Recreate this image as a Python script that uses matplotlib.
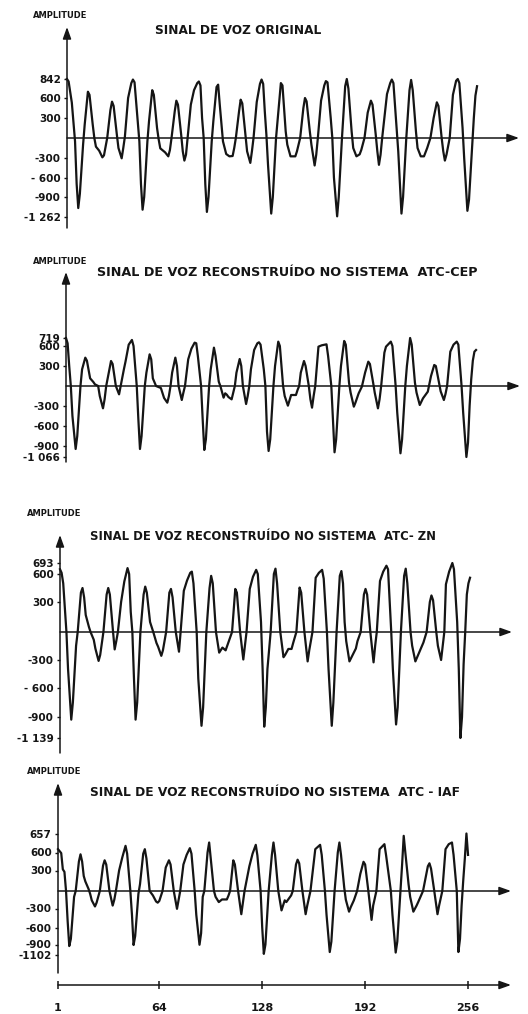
import numpy as np
import matplotlib
matplotlib.use("Agg")
import matplotlib.pyplot as plt

# ---- data: (sample, amplitude) ----
orig = [(1, 842), (2, 810), (4, 530), (6, -50), (7, -700), (8, -1100), (9, -850), (11, -100),
        (12, 200), (14, 680), (15, 640), (17, 200), (18, 0), (19, -130), (21, -190), (23, -290),
        (24, -260), (26, 0), (28, 420), (29, 545), (30, 480), (32, 50), (33, -150), (35, -305),
        (36, -150), (37, 20), (39, 600), (41, 790), (42, 835), (43, 800), (45, 250), (46, -50),
        (47, -700), (48, -1130), (49, -900), (51, -50), (52, 250), (54, 700), (55, 640), (57, 150),
        (58, -20), (59, -155), (62, -215), (64, -275), (65, -180), (66, 0), (68, 400), (69, 560),
        (70, 500), (72, 50), (73, -200), (74, -340), (75, -250), (76, 0), (78, 500), (80, 700),
        (82, 790), (83, 810), (84, 760), (85, 300), (86, 0), (87, -700), (88, -1170), (89, -900),
        (91, -50), (92, 250), (94, 740), (95, 770), (96, 500), (98, -50), (100, -240), (102, -275),
        (104, -270), (105, -150), (106, 0), (108, 400), (109, 575), (110, 520), (112, 50), (113, -200),
        (115, -375), (116, -200), (117, 0), (119, 540), (121, 780), (122, 835), (123, 780), (124, 400),
        (125, 50), (126, -400), (128, -1200), (129, -900), (131, 0), (133, 550), (134, 790), (135, 760),
        (137, 100), (138, -100), (140, -275), (143, -275), (144, -200), (146, 0), (148, 450), (149, 600),
        (150, 550), (152, 100), (153, -100), (155, -415), (156, -250), (157, 0), (159, 560), (161, 760),
        (162, 815), (163, 800), (165, 300), (166, 0), (167, -600), (169, -1250), (170, -900), (172, 0),
        (174, 750), (175, 842), (176, 720), (178, 100), (179, -150), (181, -275), (183, -245), (184, -180),
        (186, 0), (188, 380), (190, 560), (191, 500), (193, 50), (194, -200), (195, -405), (196, -250),
        (197, 0), (200, 650), (202, 790), (203, 835), (204, 790), (206, 150), (207, -200), (209, -1200),
        (210, -900), (212, 0), (214, 700), (215, 830), (216, 700), (218, 100), (219, -150), (221, -275),
        (223, -275), (225, -150), (227, 0), (229, 300), (231, 535), (232, 480), (234, 0), (235, -200),
        (236, -340), (237, -250), (239, 0), (241, 640), (243, 820), (244, 842), (245, 790), (247, 150),
        (248, -300), (250, -1150), (251, -950), (253, -100), (254, 300), (255, 630), (256, 750)]

cep = [(1, 719), (2, 640), (3, 300), (4, 0), (5, -450), (7, -945), (8, -750), (10, 0), (11, 250),
       (13, 425), (14, 380), (16, 115), (18, 60), (19, 25), (21, 0), (22, -150), (24, -335), (25, -200),
       (26, 0), (28, 250), (29, 375), (30, 330), (32, 0), (34, -125), (35, 0), (37, 250), (38, 365),
       (40, 620), (42, 690), (43, 600), (45, 0), (46, -500), (47, -945), (48, -750), (50, 0), (51, 200),
       (53, 475), (54, 400), (55, 115), (57, 0), (59, -20), (60, -30), (62, -180), (64, -250), (65, -150),
       (66, 0), (67, 200), (69, 425), (70, 300), (71, 0), (73, -210), (74, -100), (75, 0), (77, 400),
       (79, 560), (81, 650), (82, 640), (83, 450), (85, 0), (86, -500), (87, -960), (88, -800), (90, 0),
       (91, 250), (93, 575), (94, 450), (96, 65), (97, 0), (99, -175), (100, -110), (101, -130),
       (102, -165), (104, -200), (105, -100), (106, 0), (107, 200), (109, 405), (110, 300), (111, 0),
       (113, -270), (114, -150), (115, 0), (116, 250), (118, 540), (120, 640), (121, 655), (122, 620),
       (124, 250), (125, 0), (126, -685), (127, -975), (128, -800), (130, 0), (131, 300), (133, 665),
       (134, 600), (136, 0), (137, -150), (139, -295), (141, -135), (144, -135), (145, -60), (146, 0),
       (147, 200), (149, 375), (150, 300), (152, 0), (153, -200), (154, -325), (155, -150), (156, 0),
       (158, 590), (160, 610), (161, 615), (163, 625), (164, 450), (166, 0), (167, -500), (168, -995),
       (169, -800), (171, 0), (172, 300), (174, 675), (175, 620), (177, 50), (178, -100), (180, -310),
       (181, -250), (183, -110), (185, -10), (187, 200), (189, 365), (190, 330), (192, 50), (193, -100),
       (195, -335), (196, -200), (197, 0), (199, 500), (200, 590), (203, 665), (204, 600), (206, 0),
       (207, -400), (209, -1010), (210, -800), (212, 0), (213, 300), (215, 719), (216, 620), (218, 50),
       (219, -100), (221, -285), (223, -185), (226, -85), (228, 150), (230, 315), (231, 300), (233, 50),
       (234, -80), (236, -210), (237, -120), (238, 0), (240, 515), (242, 620), (244, 665), (245, 620),
       (247, 0), (248, -400), (250, -1066), (251, -850), (252, -300), (253, 100), (254, 380),
       (255, 515), (256, 540)]

zn = [(1, 640), (2, 610), (3, 500), (5, 0), (6, -400), (8, -930), (9, -750), (11, -150), (12, 0),
      (14, 400), (15, 450), (16, 350), (17, 170), (19, 50), (20, 0), (22, -85), (23, -180), (25, -315),
      (26, -250), (28, 0), (30, 380), (31, 450), (32, 380), (34, 0), (35, -190), (36, -100), (37, 0),
      (39, 300), (41, 520), (43, 650), (44, 600), (45, 200), (46, 0), (47, -500), (48, -930), (49, -750),
      (51, 0), (53, 380), (54, 465), (55, 400), (57, 100), (59, 0), (61, -120), (62, -160), (64, -260),
      (65, -200), (67, 0), (69, 400), (70, 440), (71, 350), (73, 0), (75, -215), (76, 0), (78, 420),
      (80, 530), (82, 610), (83, 620), (84, 500), (86, 0), (87, -500), (89, -1000), (90, -800), (92, 0),
      (94, 450), (95, 580), (96, 500), (98, 0), (100, -225), (102, -170), (104, -200), (105, -150),
      (108, 0), (110, 440), (111, 400), (113, 0), (115, -300), (116, -150), (117, 0), (119, 440),
      (121, 570), (123, 635), (124, 600), (126, 100), (127, -400), (128, -1010), (129, -800),
      (130, -400), (132, 0), (134, 600), (135, 645), (136, 500), (138, 0), (140, -275), (141, -250),
      (143, -185), (145, -185), (146, -120), (148, 0), (150, 455), (151, 400), (153, 0), (155, -320),
      (156, -200), (158, 0), (160, 560), (162, 610), (164, 635), (165, 550), (167, 0), (168, -400),
      (170, -1000), (171, -750), (173, 0), (175, 580), (176, 625), (177, 500), (178, 100), (179, -100),
      (181, -320), (183, -250), (185, -180), (186, -100), (188, 0), (190, 380), (191, 440), (192, 380),
      (194, 0), (196, -330), (197, -150), (198, 0), (200, 525), (202, 620), (204, 670), (205, 640),
      (207, 0), (208, -400), (210, -985), (211, -800), (213, 0), (215, 580), (216, 645), (217, 500),
      (219, 0), (220, -150), (222, -320), (223, -280), (225, -200), (227, -115), (229, 0), (231, 300),
      (232, 370), (233, 320), (235, 0), (236, -150), (238, -305), (239, -150), (240, 0), (241, 490),
      (243, 620), (245, 693), (246, 640), (248, 100), (249, -400), (250, -1139), (251, -900),
      (252, -350), (253, 0), (254, 380), (255, 500), (256, 560)]

iaf = [(1, 610), (3, 590), (4, 320), (5, 280), (6, 0), (7, -500), (8, -930), (9, -800), (11, -100),
       (12, 0), (14, 450), (15, 570), (16, 450), (17, 220), (18, 140), (20, 30), (21, -50), (22, -160),
       (24, -265), (25, -200), (27, 0), (29, 380), (30, 470), (31, 400), (33, 0), (35, -250), (36, -150),
       (37, 0), (39, 300), (41, 520), (43, 620), (44, 580), (46, 0), (47, -400), (48, -910), (49, -750),
       (51, -50), (52, 100), (54, 580), (55, 610), (56, 500), (58, 0), (60, -75), (62, -180), (63, -200),
       (64, -170), (66, 0), (68, 350), (70, 470), (71, 400), (73, 0), (75, -305), (76, -150), (77, 0),
       (79, 400), (81, 560), (83, 613), (84, 580), (86, 0), (87, -400), (89, -905), (90, -700),
       (91, -100), (92, 0), (94, 600), (95, 630), (96, 500), (98, 0), (99, -100), (101, -190),
       (103, -145), (106, -145), (107, -80), (108, 0), (110, 470), (111, 400), (113, 0), (115, -390),
       (116, -200), (117, 0), (120, 370), (122, 580), (124, 623), (125, 550), (127, 0), (128, -600),
       (129, -1080), (130, -900), (132, 0), (134, 560), (135, 630), (136, 560), (138, 0), (140, -330),
       (142, -160), (143, -190), (146, -75), (147, 0), (149, 400), (150, 480), (151, 420), (153, 0),
       (155, -390), (156, -250), (158, 0), (161, 610), (164, 623), (165, 560), (167, 0), (168, -400),
       (170, -1045), (171, -850), (173, 0), (175, 600), (176, 630), (177, 560), (179, 50), (180, -150),
       (182, -350), (183, -280), (185, -160), (187, 0), (189, 250), (191, 445), (192, 400), (194, 0),
       (196, -480), (197, -250), (199, 0), (201, 610), (204, 625), (205, 560), (208, 0), (209, -400),
       (211, -1055), (212, -850), (214, 0), (215, 400), (216, 650), (217, 600), (219, 100), (220, -100),
       (222, -350), (224, -250), (225, -190), (228, 0), (231, 370), (232, 420), (233, 330), (235, 0),
       (237, -390), (238, -250), (240, 0), (242, 610), (244, 625), (246, 630), (247, 560), (249, 0),
       (250, -1045), (251, -800), (252, -250), (253, 150), (254, 500), (255, 657), (256, 560)]

titles = ["SINAL DE VOZ ORIGINAL",
          "SINAL DE VOZ RECONSTRUÍDO NO SISTEMA  ATC-CEP",
          "SINAL DE VOZ RECONSTRUÍDO NO SISTEMA  ATC- ZN",
          "SINAL DE VOZ RECONSTRUÍDO NO SISTEMA  ATC - IAF"]

yticks = [[842, 600, 300, -300, -600, -900, -1262],
          [719, 600, 300, -300, -600, -900, -1066],
          [693, 600, 300, -300, -600, -900, -1139],
          [657, 600, 300, -300, -600, -900, -1102]]
ylabels = [["842", "600", "300", "-300", "- 600", "-900", "-1 262"],
           ["719", "600", "300", "-300", "-600", "-900", "-1 066"],
           ["693", "600", "300", "-300", "- 600", "-900", "-1 139"],
           ["657", "600", "300", "-300", "-600", "-900", "-1102"]]

sample_ticks = [1, 64, 128, 192, 256]

# ---- layout (pixels of the 528x1014 page) ----
W, H = 528, 1014
PX_PER_SAMPLE = 1.608
INK = "#151515"

# x0: y axis, y0: zero line, ytop/ybot: y axis ends, xend: arrow tip
panels = [
    dict(x0=67, y0=138, ytop=27, ybot=228, xend=519,
         offs=[59, 40, 20, -20, -39.5, -59, -79],
         title_xy=(155, 31), title_fs=8.7, amp_xy=(33, 15)),
    dict(x0=66, y0=386, ytop=272, ybot=462, xend=520,
         offs=[48, 40, 20, -20, -40, -60, -71],
         title_xy=(97, 272), title_fs=9.2, amp_xy=(33, 262)),
    dict(x0=60, y0=632, ytop=535, ybot=753, xend=512,
         offs=[69, 58, 30, -27.5, -56, -85, -106],
         title_xy=(90, 537), title_fs=8.4, amp_xy=(27, 513)),
    dict(x0=58, y0=891, ytop=783, ybot=973, xend=511,
         offs=[57.5, 38.5, 20.5, -17.5, -36.5, -53.5, -64],
         title_xy=(90, 793), title_fs=8.8, amp_xy=(27, 771)),
]


def knot_scale(vals, offs):
    # hand-drawn amplitude axis: piecewise linear between the labelled ticks
    v = np.r_[vals, 0.0]
    o = np.r_[offs, 0.0]
    order = np.argsort(v)
    v, o = v[order], o[order]
    k_lo = (o[1] - o[0]) / (v[1] - v[0])
    k_hi = (o[-1] - o[-2]) / (v[-1] - v[-2])
    v = np.r_[v[0] - 1e5, v, v[-1] + 1e5]
    o = np.r_[o[0] - 1e5 * k_lo, o, o[-1] + 1e5 * k_hi]
    return (lambda y: np.interp(y, v, o)), (lambda y: np.interp(y, o, v))


arrow = dict(arrowstyle="-|>,head_length=0.7,head_width=0.25", color=INK,
             lw=1.1, shrinkA=0, shrinkB=0)

fig = plt.figure(figsize=(W / 100, H / 100), dpi=100)

for series, p, title, tv, tl in zip([orig, cep, zn, iaf], panels, titles, yticks, ylabels):
    ax = fig.add_axes([p["x0"] / W, 1 - p["ybot"] / H,
                       (p["xend"] - p["x0"]) / W, (p["ybot"] - p["ytop"]) / H])
    fwd, inv = knot_scale(tv, p["offs"])
    ax.set_yscale("function", functions=(fwd, inv))
    xmax = 1 + (p["xend"] - p["x0"]) / PX_PER_SAMPLE
    ymin = float(inv(-(p["ybot"] - p["y0"])))
    ymax = float(inv(p["y0"] - p["ytop"]))
    ax.set_xlim(1, xmax)
    ax.set_ylim(ymin, ymax)

    n, a = zip(*series)
    ax.plot(n, a, color=INK, lw=1.6, solid_joinstyle="round", clip_on=False)

    for s in ax.spines.values():
        s.set_visible(False)
    ax.set_xticks([])
    ax.set_yticks(tv)
    ax.set_yticklabels(tl, fontsize=7.5, fontweight="bold", color=INK)
    ax.tick_params(axis="y", length=2.5, width=1, pad=2, colors=INK)
    ax.yaxis.set_minor_locator(plt.NullLocator())

    ax.annotate("", xy=(xmax, 0), xytext=(1, 0), arrowprops=arrow, annotation_clip=False)
    ax.annotate("", xy=(1, ymax), xytext=(1, ymin), arrowprops=arrow, annotation_clip=False)

    tx, ty = p["title_xy"]
    fig.text(tx / W, 1 - ty / H, title, ha="left", va="center",
             fontsize=p["title_fs"], fontweight="bold", color=INK)
    axx, axy = p["amp_xy"]
    fig.text(axx / W, 1 - axy / H, "AMPLITUDE", ha="left", va="center",
             fontsize=6, fontweight="bold", color=INK)

# sample axis under the last panel
bx0, bxend, by = 58, 511, 985
axb = fig.add_axes([bx0 / W, 1 - by / H, (bxend - bx0) / W, 1 / H])
bmax = 1 + (bxend - bx0) / PX_PER_SAMPLE
axb.set_xlim(1, bmax)
axb.set_ylim(0, 1)
for s in axb.spines.values():
    s.set_visible(False)
axb.set_yticks([])
axb.set_xticks(sample_ticks)
axb.set_xticklabels([str(t) for t in sample_ticks], fontsize=8, fontweight="bold", color=INK)
axb.tick_params(axis="x", direction="inout", length=6, width=1.1, pad=10, colors=INK)
axb.annotate("", xy=(bmax, 0), xytext=(1, 0), arrowprops=arrow, annotation_clip=False)

fig.savefig("out.png", dpi=100)
